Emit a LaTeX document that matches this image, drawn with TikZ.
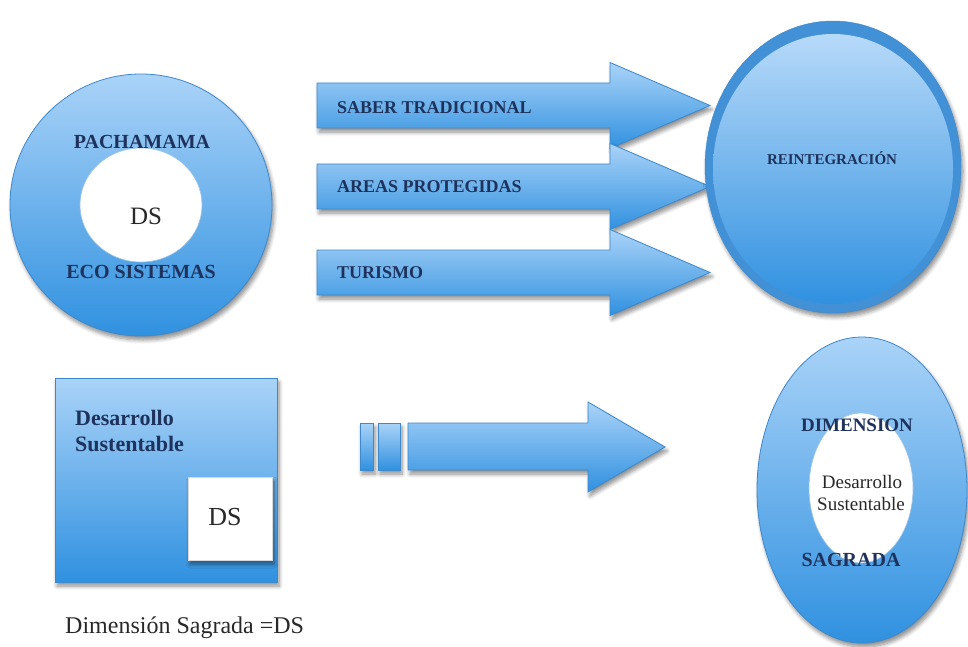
\documentclass[tikz,border=0pt]{standalone}
\usepackage{fontspec}
\setmainfont{Liberation Serif}
\usetikzlibrary{shadows.blur}
\definecolor{topblue}{RGB}{170,211,248}
\definecolor{botblue}{RGB}{48,145,224}
\definecolor{edgeblue}{RGB}{62,136,204}
\definecolor{rimblue}{RGB}{66,145,215}
\definecolor{navy}{RGB}{30,50,92}
\definecolor{darktext}{RGB}{40,40,40}
\tikzset{
  bluefill/.style={top color=topblue, bottom color=botblue, draw=edgeblue, line width=0.8pt},
  shad/.style={blur shadow={shadow xshift=2pt, shadow yshift=-4pt, shadow blur steps=6, shadow opacity=45, shadow blur radius=4pt}},
  lbl/.style={text=navy, font=\bfseries\fontsize{18}{20}\selectfont, inner sep=0pt},
  plain/.style={text=darktext, inner sep=0pt},
}
\begin{document}
\begin{tikzpicture}[x=1pt,y=-1pt]
\useasboundingbox (0,0) rectangle (968,647);

% ---- donut PACHAMAMA
\path[bluefill, shad] (141,205) ellipse [x radius=131pt, y radius=131pt];
\path[fill=white, draw=edgeblue!50, line width=0.6pt] (141,205) ellipse [x radius=61pt, y radius=57pt];
\node[lbl, font=\bfseries\fontsize{20}{22}\selectfont] (pacha) at (142,142) {PACHAMAMA};
\node[plain, font=\fontsize{25}{27}\selectfont] (ds1) at (146,216) {DS};
\node[lbl, font=\bfseries\fontsize{20}{22}\selectfont] (eco) at (141,272) {ECO SISTEMAS};

% ---- three arrows
\foreach \cy in {105.5,186.5,272.5}
  \path[bluefill, shad] (317,\cy-22.5) -- (610,\cy-22.5) -- (610,\cy-43) -- (710,\cy)
     -- (610,\cy+43) -- (610,\cy+22.5) -- (317,\cy+22.5) -- cycle;
\node[lbl, anchor=west] (saber) at (337,108) {SABER TRADICIONAL};
\node[lbl, anchor=west] (areas) at (337,187) {AREAS PROTEGIDAS};
\node[lbl, anchor=west] (turismo) at (337,273) {TURISMO};

% ---- REINTEGRACION ellipse
\path[fill=rimblue, draw=edgeblue, shad] (833,167) ellipse [x radius=128pt, y radius=146pt];
\path[top color=topblue!85!white, bottom color=botblue] (833,169) ellipse [x radius=120pt, y radius=135pt];
\node[lbl, font=\bfseries\fontsize{15}{17}\selectfont] (reint) at (832,158) {REINTEGRACIÓN};

% ---- square Desarrollo Sustentable
\path[bluefill, shad] (55,378) rectangle (277,582);
\node[lbl, anchor=base west, font=\bfseries\fontsize{22}{24}\selectfont] (des1) at (75,425) {Desarrollo};
\node[lbl, anchor=base west, font=\bfseries\fontsize{22}{24}\selectfont] (sus1) at (75,451) {Sustentable};
\path[fill=white, draw=black!15, shad] (188,477) rectangle (272,560);
\node[plain, font=\fontsize{26}{28}\selectfont] (ds2) at (225,517) {DS};
\node[plain, anchor=base west, font=\fontsize{24}{26}\selectfont] (cap) at (65,633) {Dimensión Sagrada =DS};

% ---- striped arrow
\path[bluefill, shad] (360,423) rectangle (373,470);
\path[bluefill, shad] (378,423) rectangle (400,470);
\path[bluefill, shad] (408,423) -- (588,423) -- (588,402) -- (665,447) -- (588,492)
   -- (588,470) -- (408,470) -- cycle;

% ---- DIMENSION ellipse
\path[bluefill, shad] (862,490) ellipse [x radius=105pt, y radius=153pt];
\path[fill=white, draw=edgeblue!50, line width=0.6pt] (861,488) ellipse [x radius=52pt, y radius=75pt];
\node[lbl, font=\bfseries\fontsize{19}{21}\selectfont] (dim) at (857,425) {DIMENSION};
\node[plain, font=\fontsize{19}{21}\selectfont] (des2) at (862,482) {Desarrollo};
\node[plain, font=\fontsize{19}{21}\selectfont] (sus2) at (861,504) {Sustentable};
\node[lbl, font=\bfseries\fontsize{20}{22}\selectfont] (sag) at (851,560) {SAGRADA};
\end{tikzpicture}
\end{document}
